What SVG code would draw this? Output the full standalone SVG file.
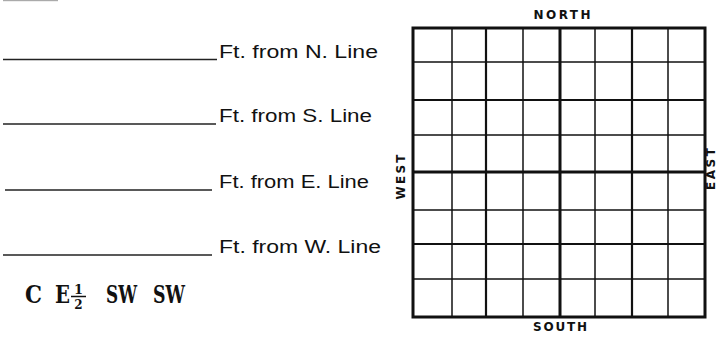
<svg xmlns="http://www.w3.org/2000/svg" width="718" height="339" viewBox="0 0 718 339">
<style>
.lbl{font-family:"Liberation Sans",Arial,sans-serif;font-size:17.5px;fill:#111}
.blank{stroke:#222;stroke-width:1.6}
.dir{font-family:"DejaVu Sans","Liberation Sans",sans-serif;font-size:12px;font-weight:bold;fill:#111}
.mono{font-family:"DejaVu Serif","Liberation Serif",serif;font-weight:bold;fill:#111}
.g1{stroke:#111;stroke-width:1.5;fill:none}
.g2{stroke:#111;stroke-width:2.2;fill:none}
.g3{stroke:#111;stroke-width:3;fill:none}
</style>
<rect width="718" height="339" fill="#fff"/>
<rect x="3" y="0" width="55" height="1.2" fill="#aaa"/>

<g id="field-n">
<line class="blank" x1="3" y1="59.5" x2="217" y2="59.5"/>
<text class="lbl" x="219" y="58" textLength="159" lengthAdjust="spacingAndGlyphs">Ft. from N. Line</text>
</g>
<g id="field-s">
<line class="blank" x1="3" y1="124" x2="216" y2="124"/>
<text class="lbl" x="219" y="122" textLength="153" lengthAdjust="spacingAndGlyphs">Ft. from S. Line</text>
</g>
<g id="field-e">
<line class="blank" x1="5" y1="190" x2="212" y2="190"/>
<text class="lbl" x="219" y="188" textLength="150" lengthAdjust="spacingAndGlyphs">Ft. from E. Line</text>
</g>
<g id="field-w">
<line class="blank" x1="3" y1="255" x2="212" y2="255"/>
<text class="lbl" x="219" y="253" textLength="162" lengthAdjust="spacingAndGlyphs">Ft. from W. Line</text>
</g>

<g id="legal-desc">
<text class="mono" x="25" y="303" font-size="25" textLength="17" lengthAdjust="spacingAndGlyphs">C</text>
<text class="mono" x="55" y="303" font-size="25" textLength="15" lengthAdjust="spacingAndGlyphs">E</text>
<text class="mono" x="78.5" y="294" font-size="13" text-anchor="middle">1</text>
<line x1="71" y1="296.5" x2="86" y2="296.5" stroke="#111" stroke-width="1.5"/>
<text class="mono" x="78.5" y="309" font-size="12" text-anchor="middle" font-weight="normal">2</text>
<text class="mono" x="106" y="303" font-size="25" textLength="31" lengthAdjust="spacingAndGlyphs">SW</text>
<text class="mono" x="153" y="303" font-size="25" textLength="32" lengthAdjust="spacingAndGlyphs">SW</text>
</g>

<g id="section-grid">
<g id="thin-lines" class="g1">
<line x1="452" y1="28" x2="452" y2="317"/>
<line x1="523" y1="28" x2="523" y2="317"/>
<line x1="595" y1="28" x2="595" y2="317"/>
<line x1="668" y1="28" x2="668" y2="317"/>
<line x1="413" y1="62" x2="705" y2="62"/>
<line x1="413" y1="135" x2="705" y2="135"/>
<line x1="413" y1="210" x2="705" y2="210"/>
<line x1="413" y1="279" x2="705" y2="279"/>
</g>
<g id="quarter-lines" class="g2">
<line x1="486" y1="28" x2="486" y2="317"/>
<line x1="632" y1="28" x2="632" y2="317"/>
<line x1="413" y1="100" x2="705" y2="100"/>
<line x1="413" y1="244" x2="705" y2="244"/>
</g>
<g id="half-lines" class="g3">
<line x1="560" y1="28" x2="560" y2="317"/>
<line x1="413" y1="172" x2="705" y2="172"/>
<rect x="413" y="28" width="292" height="289"/>
</g>
</g>

<g id="labels">
<text class="dir" x="562" y="19" text-anchor="middle" textLength="57" lengthAdjust="spacing">NORTH</text>
<text class="dir" x="560" y="331" text-anchor="middle" textLength="54" lengthAdjust="spacing">SOUTH</text>
<text class="dir" transform="translate(401,177) rotate(-90)" x="0" y="4.3" text-anchor="middle" textLength="45" lengthAdjust="spacing">WEST</text>
<text class="dir" transform="translate(711,169) rotate(-90)" x="0" y="4.3" text-anchor="middle" textLength="42" lengthAdjust="spacing">EAST</text>
</g>
</svg>
